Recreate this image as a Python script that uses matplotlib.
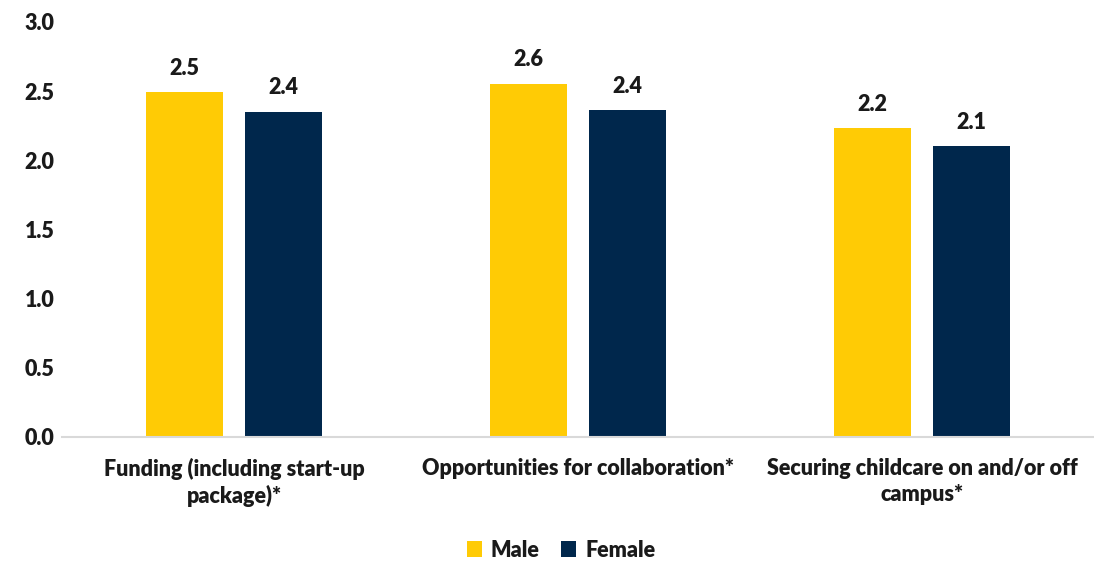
import numpy as np
import matplotlib.pyplot as plt

categories = ['Funding (including start-up\npackage)*',
              'Opportunities for collaboration*',
              'Securing childcare on and/or off\ncampus*']
male = [2.49, 2.55, 2.23]
female = [2.35, 2.36, 2.10]
male_labels = ['2.5', '2.6', '2.2']
female_labels = ['2.4', '2.4', '2.1']

plt.rcParams['font.family'] = ['Lato', 'DejaVu Sans']
plt.rcParams['font.weight'] = 'heavy'
txt = '#1a1a1a'
fs = 15.5

fig = plt.figure(figsize=(10.94, 5.63), dpi=100)
ax = fig.add_axes([0.0567, 0.224, 0.9433, 0.737])

x = np.arange(len(categories))
w = 0.224
off = 0.143
b1 = ax.bar(x - off, male, w, color='#FFCB05', label='Male')
b2 = ax.bar(x + off, female, w, color='#00274C', label='Female')

for bars, labs in [(b1, male_labels), (b2, female_labels)]:
    for b, l in zip(bars, labs):
        ax.text(b.get_x() + b.get_width() / 2, b.get_height() + 0.1, l,
                ha='center', va='bottom', fontsize=fs, color=txt)

ax.set_xlim(-0.5, 2.5)
ax.set_ylim(0, 3.0)
ax.set_yticks(np.arange(0, 3.01, 0.5))
ax.set_yticklabels([f'{v:.1f}' for v in np.arange(0, 3.01, 0.5)])
ax.set_xticks(x)
ax.set_xticklabels(categories, linespacing=1.3)
ax.tick_params(axis='both', length=0, labelsize=fs, labelcolor=txt)
ax.tick_params(axis='x', pad=15)
ax.tick_params(axis='y', pad=27)
for lab in ax.get_yticklabels():
    lab.set_horizontalalignment('left')
for s in ['top', 'right', 'left']:
    ax.spines[s].set_visible(False)
ax.spines['bottom'].set_color('#D9D9D9')
ax.spines['bottom'].set_linewidth(1.5)

fig.legend(handles=[b1, b2], loc='center', bbox_to_anchor=(0.513, 0.023), ncol=2,
           frameon=False, fontsize=fs, handlelength=0.7, handleheight=0.7,
           handletextpad=0.4, columnspacing=1.0, labelcolor=txt)

fig.savefig('out.png', dpi=100)
